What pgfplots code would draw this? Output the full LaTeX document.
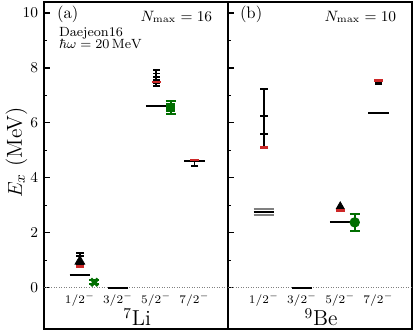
\documentclass[border=0pt]{standalone}
\usepackage{pgfplots}
\pgfplotsset{compat=1.18}
\definecolor{expgreen}{RGB}{0,110,0}
\definecolor{extred}{RGB}{205,40,40}

\pgfplotsset{levels/.style={
  scale only axis, width=110.4pt, height=196.2pt,
  xmin=0.06, xmax=4.88, ymin=-1.5, ymax=10.4,
  xtick=\empty, ytick={0,2,4,6,8,10}, minor y tick num=1,
  ytick pos=left, tick align=inside,
  major tick length=3.5pt, minor tick length=2pt,
  axis line style={line width=0.9pt},
  every tick/.style={black, line width=0.7pt},
  tick label style={font=\small},
  unbounded coords=jump, clip=false},
  explev/.style={black, line width=1.2pt, no marks},
  redlev/.style={extred, only marks, mark=-, mark size=2.6pt, mark options={line width=1.4pt}},
  conv/.style={black, line width=0.9pt, mark=-, mark size=2.2pt, mark options={line width=1.1pt}},
  green/.style={expgreen, only marks, line width=1pt, mark size=2.6pt,
    error bars/y dir=both, error bars/y explicit,
    error bars/error bar style={expgreen, line width=1pt},
    error bars/error mark options={expgreen, line width=1.2pt, mark size=3pt, rotate=90}}}
\tikzset{catlab/.style={anchor=base, font=\fontsize{7.5}{9}\selectfont},
  nuclab/.style={anchor=base, font=\fontsize{13}{15}\selectfont}}

\begin{document}
\begin{tikzpicture}
% ---- (a) 7Li
\begin{axis}[levels, name=L]
\addplot[gray, densely dotted, line width=0.5pt] coordinates {(0.06,0) (4.88,0)};
% experiment
\addplot[explev] coordinates {(0.73,0.48) (1.27,0.48) (0,nan)
  (1.73,0) (2.27,0) (0,nan) (2.73,6.60) (3.27,6.60) (0,nan) (3.73,4.63) (4.27,4.63)};
% Nmax convergence
\addplot[conv] coordinates {(1,1.28) (1,1.15) (1,0.85)};
\addplot[black, only marks, mark=triangle*, mark size=3.4pt] coordinates {(1,0.96)};
\addplot[conv] coordinates {(3,7.93) (3,7.80) (3,7.68) (3,7.56) (3,7.45) (3,7.35)};
\addplot[conv] coordinates {(4,4.63) (4,4.42)};
% extrapolations
\addplot[redlev] coordinates {(1,0.77) (3,7.48) (4,4.66)};
% green results
\addplot[green, mark=x, mark size=3pt, mark options={line width=2pt}] coordinates {(1.38,0.20) +- (0,0.08)};
\addplot[green, mark=square*, mark size=2.2pt] coordinates {(3.38,6.56) +- (0,0.22)};
% labels
\node[rotate=90, anchor=center, font=\fontsize{13}{15}\selectfont] at (axis description cs:-0.15,0.54) {$E_x$ (MeV)};
\node[anchor=base west, font=\normalsize] at (axis cs:0.25,9.81) {(a)};
\node[anchor=base west, font=\footnotesize] at (axis cs:0.30,9.15) {Daejeon16};
\node[anchor=base west, font=\footnotesize] at (axis cs:0.30,8.70) {$\hbar\omega = 20\,\mathrm{MeV}$};
\node[anchor=base east, font=\small] at (axis cs:4.62,9.70) {$N_\mathrm{max} = 16$};
\node[catlab] at (axis cs:1,-0.56) {$1/2^-$};
\node[catlab] at (axis cs:2,-0.56) {$3/2^-$};
\node[catlab] at (axis cs:3,-0.56) {$5/2^-$};
\node[catlab] at (axis cs:4,-0.56) {$7/2^-$};
\node[nuclab] at (axis cs:2.5,-1.37) {$^{7}$Li};
\end{axis}
% ---- (b) 9Be
\begin{axis}[levels, name=R, at={(L.south east)}, anchor=south west,
  yticklabels={}]
\addplot[gray, densely dotted, line width=0.5pt] coordinates {(0.06,0) (4.88,0)};
\addplot[gray, line width=0.8pt, no marks] coordinates {(0.73,2.87) (1.27,2.87) (0,nan) (0.73,2.65) (1.27,2.65)};
\addplot[explev] coordinates {(0.73,2.76) (1.27,2.76) (0,nan)
  (1.73,0) (2.27,0) (0,nan) (2.73,2.41) (3.27,2.41) (0,nan) (3.73,6.36) (4.27,6.36)};
\addplot[conv] coordinates {(1,7.23) (1,6.26) (1,5.59) (1,5.13)};
\addplot[black, only marks, mark=triangle*, mark size=2.8pt] coordinates {(3,2.96)};
\addplot[conv] coordinates {(4,7.50) (4,7.43)};
\addplot[redlev] coordinates {(1,5.11) (3,2.81) (4,7.54)};
\addplot[green, mark=*] coordinates {(3.38,2.38) +- (0,0.32)};
\node[anchor=base west, font=\normalsize] at (axis cs:0.22,9.81) {(b)};
\node[anchor=base east, font=\small] at (axis cs:4.62,9.70) {$N_\mathrm{max} = 10$};
\node[catlab] at (axis cs:1,-0.56) {$1/2^-$};
\node[catlab] at (axis cs:2,-0.56) {$3/2^-$};
\node[catlab] at (axis cs:3,-0.56) {$5/2^-$};
\node[catlab] at (axis cs:4,-0.56) {$7/2^-$};
\node[nuclab] at (axis cs:2.5,-1.37) {$^{9}$Be};
\end{axis}
\path (L.south west) ++(-26.4pt,-1.8pt) (R.north east) ++(1.8pt,1.2pt);
\end{tikzpicture}
\end{document}
